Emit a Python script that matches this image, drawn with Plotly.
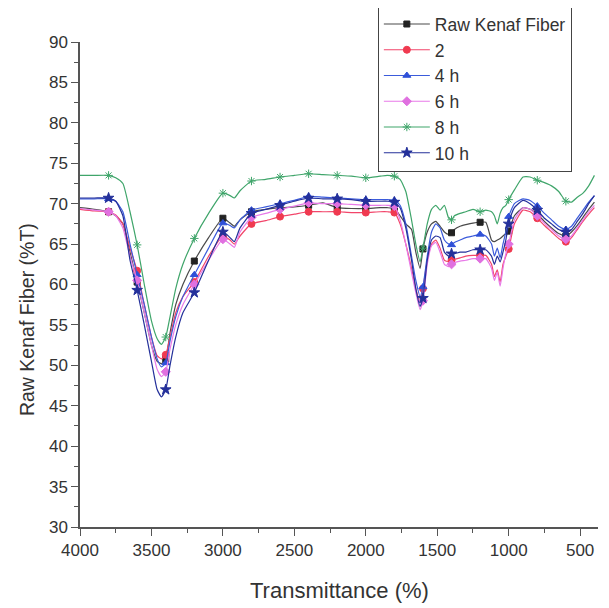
import plotly.graph_objects as go

wavenumber = [4000, 3900, 3800, 3750, 3700, 3650, 3600, 3550, 3500, 3460,
              3430, 3400, 3370, 3330, 3280, 3200, 3100, 3000, 2950, 2920,
              2880, 2800, 2700, 2600, 2500, 2400, 2300, 2200, 2100, 2000,
              1900, 1850, 1800, 1760, 1720, 1680, 1650, 1620, 1600, 1570,
              1540, 1510, 1480, 1450, 1420, 1400, 1380, 1340, 1300, 1250,
              1200, 1160, 1120, 1100, 1080, 1060, 1040, 1020, 1000, 960,
              900, 850, 800, 750, 700, 650, 600, 560, 520, 480,
              440, 400]

raw = [69.5, 69.3, 69.0, 68.5, 67.5, 64.0, 60.3, 56.5, 52.5, 50.5,
       50.2, 50.8, 54.0, 57.5, 60.0, 62.9, 65.8, 68.2, 67.6, 67.2,
       68.0, 69.0, 69.3, 69.5, 69.6, 69.8, 70.1, 69.5, 69.4, 69.4,
       69.5, 69.5, 69.4, 68.5, 67.5, 66.8, 64.0, 62.0, 64.4, 66.5,
       67.5, 67.8, 67.2, 66.5, 66.2, 66.4, 66.8, 67.2, 67.4, 67.6,
       67.7, 67.7, 65.5, 65.3, 65.5, 65.7, 66.0, 66.3, 66.6, 68.5,
       69.5, 69.3, 68.7, 67.8, 67.0, 66.3, 66.0, 66.5, 67.3, 68.3,
       69.3, 70.2]

s2 = [69.3, 69.1, 69.0, 68.6, 67.5, 64.5, 61.7, 57.5, 53.5, 51.2,
      50.8, 51.3, 53.5, 56.5, 58.5, 60.3, 63.5, 66.0, 65.5, 65.0,
      66.0, 67.5, 67.9, 68.4, 68.7, 69.0, 69.0, 69.0, 68.9, 68.9,
      69.0, 69.0, 68.9, 67.5, 65.0, 62.0, 59.5, 57.8, 59.5, 63.0,
      65.0, 65.5, 64.5, 63.0, 62.8, 63.0, 63.1, 63.3, 63.5, 63.6,
      63.6, 63.6, 62.5, 61.0, 61.8, 60.3, 62.5, 63.5, 64.4, 67.5,
      69.2, 69.0, 68.2, 67.3, 66.5, 65.7, 65.3, 65.8, 66.8, 67.8,
      68.7, 69.5]

h4 = [70.6, 70.6, 70.6, 70.3, 69.0, 65.0, 61.2, 57.5, 53.5, 50.8,
      49.8, 50.3, 53.0, 56.0, 58.5, 61.2, 64.5, 67.6, 67.3, 67.0,
      68.0, 69.2, 69.6, 70.0, 70.4, 70.9, 70.8, 70.7, 70.6, 70.5,
      70.5, 70.5, 70.4, 69.8, 67.5, 63.5, 60.5, 58.5, 59.7, 63.5,
      66.5, 67.5, 67.0, 65.5, 65.0, 64.9, 65.2, 65.5, 65.8, 66.0,
      66.2, 66.0, 65.0, 63.5, 64.5, 63.3, 65.0, 66.5, 68.4, 70.0,
      70.6, 70.4, 69.7, 68.8, 68.0, 67.2, 66.8, 67.2, 68.2, 69.2,
      70.2, 71.0]

h6 = [69.4, 69.2, 69.0, 68.5, 67.0, 63.5, 60.5, 56.5, 52.5, 49.5,
      48.6, 49.2, 52.0, 55.0, 57.5, 60.0, 63.0, 65.6, 65.0, 64.6,
      66.5, 68.3, 68.8, 69.3, 69.7, 70.1, 70.0, 70.0, 69.9, 69.8,
      69.8, 69.8, 69.7, 68.0, 65.0, 61.5, 59.0, 56.9, 58.0, 62.5,
      64.8, 65.2, 64.0, 62.5, 62.2, 62.5, 62.7, 62.9, 63.0, 63.2,
      63.2, 63.2, 62.0, 60.5, 61.5, 59.8, 62.0, 63.8, 65.0, 68.0,
      69.5, 69.3, 68.5, 67.6, 66.8, 66.0, 65.6, 66.0, 67.0, 68.0,
      69.0, 69.8]

h8 = [73.5, 73.5, 73.5, 73.2, 72.5, 69.0, 64.9, 60.0, 55.5, 53.3,
      52.6, 53.5, 56.0, 59.5, 62.5, 65.7, 68.8, 71.3, 71.0, 70.7,
      71.6, 72.8, 73.0, 73.3, 73.5, 73.7, 73.6, 73.5, 73.4, 73.2,
      73.4, 73.5, 73.4, 73.0, 71.5, 68.0, 65.0, 62.8, 64.5, 67.5,
      69.3, 69.8, 69.2, 69.8, 68.2, 68.0, 68.5, 68.8, 69.0, 69.3,
      69.0, 69.2, 69.0, 68.5, 67.5, 68.8, 69.5, 69.8, 70.5, 71.7,
      73.3, 73.3, 72.9, 72.6, 72.2, 71.5, 70.3, 70.2, 70.8, 71.3,
      72.2, 73.5]

h10 = [70.7, 70.7, 70.7, 70.3, 68.5, 63.0, 59.3, 55.0, 50.5, 47.0,
       46.1, 47.0, 50.0, 53.5, 56.5, 59.0, 63.0, 66.5, 65.8, 65.3,
       67.0, 68.8, 69.3, 69.8, 70.3, 70.7, 70.6, 70.6, 70.5, 70.3,
       70.3, 70.3, 70.2, 69.5, 67.0, 63.0, 59.5, 57.3, 58.3, 63.0,
       65.5, 66.0, 65.8, 64.0, 63.5, 63.8, 63.8, 64.0, 64.0, 64.3,
       64.3, 64.3, 63.5, 62.5, 63.5, 62.8, 64.0, 65.5, 67.5, 69.5,
       70.4, 70.0, 69.2, 68.2, 67.5, 66.8, 66.5, 66.8, 67.8, 68.8,
       70.0, 71.0]

marker_positions = list(range(3800, 599, -200))

series = [
    ("Raw Kenaf Fiber", raw, "#4a4a4a", "#222222", "square", 6),
    ("2", s2, "#f2456a", "#f03a50", "circle", 7),
    ("4 h", h4, "#3b5bdb", "#2f50d8", "triangle-up", 7),
    ("6 h", h6, "#e87ae8", "#e070e0", "diamond", 7),
    ("8 h", h8, "#3fa56a", "#3fa56a", "asterisk-open", 7),
    ("10 h", h10, "#24309a", "#24309a", "star", 8),
]

fig = go.Figure()
for name, ys, lc, mc, sym, ms in series:
    fig.add_trace(go.Scatter(x=wavenumber, y=ys, mode="lines",
                             line=dict(color=lc, width=1.2, shape="spline", smoothing=0.5),
                             showlegend=False, hoverinfo="skip"))
    mx = [x for x in wavenumber if x in marker_positions]
    my = [y for x, y in zip(wavenumber, ys) if x in marker_positions]
    fig.add_trace(go.Scatter(x=mx, y=my, mode="markers",
                             marker=dict(symbol=sym, size=ms, color=mc,
                                         line=dict(color=mc, width=1)),
                             showlegend=False))
for name, ys, lc, mc, sym, ms in series:
    fig.add_trace(go.Scatter(x=[None], y=[None], mode="lines+markers", name=name,
                             line=dict(color=lc, width=1.2),
                             marker=dict(symbol=sym, size=ms, color=mc,
                                         line=dict(color=mc, width=1))))

axis_common = dict(showline=True, linecolor="#555555", linewidth=1.5,
                   ticks="outside", ticklen=7, tickwidth=1.3, tickcolor="#555555",
                   showgrid=False, zeroline=False,
                   tickfont=dict(family="Liberation Sans, Arial", size=17, color="#333333"))

fig.update_xaxes(range=[4000, 375], tickvals=[4000, 3500, 3000, 2500, 2000, 1500, 1000, 500],
                 minor=dict(ticks="outside", ticklen=4, dtick=250, tick0=0, tickcolor="#555555"),
                 **axis_common)
fig.update_yaxes(range=[30, 90], dtick=5,
                 minor=dict(ticks="outside", ticklen=4, dtick=2.5, tickcolor="#555555"),
                 **axis_common)

# page body has an 8px margin, so the figure is sized/margined to compensate
fig.update_layout(
    width=601, height=600,
    margin=dict(l=72, r=11, t=34, b=81, autoexpand=False),
    plot_bgcolor="white", paper_bgcolor="white",
    font=dict(family="Liberation Sans, Arial", color="#333333"),
    legend=dict(x=0.575, y=1.076, xanchor="left", yanchor="top",
                bgcolor="white", bordercolor="#444444", borderwidth=1,
                font=dict(size=17.5, color="#333333"), itemwidth=46, tracegroupgap=0),
    annotations=[
        dict(text="Transmittance (%)", xref="paper", yref="paper", x=0.5, y=-0.13,
             xanchor="center", yanchor="middle", showarrow=False,
             font=dict(size=22, color="#333333")),
        dict(text="Raw Kenaf Fiber (%T)", xref="paper", yref="paper", x=-0.102, y=0.427,
             xanchor="center", yanchor="middle", showarrow=False, textangle=-90,
             font=dict(size=19.5, color="#333333")),
    ],
)

fig.write_html("out.html")
